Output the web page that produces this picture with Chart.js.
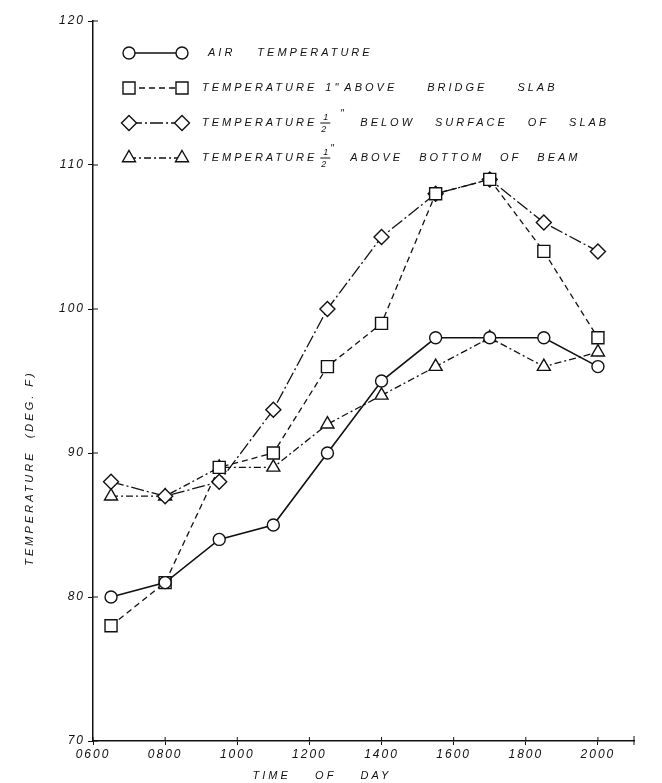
<!DOCTYPE html>
<html>
<head>
<meta charset="utf-8">
<script src="https://cdn.jsdelivr.net/npm/chart.js@4"></script>
<style>
  html, body { margin: 0; padding: 0; background: #fff; }
  #wrap { width: 662px; height: 783px; }
</style>
</head>
<body>
<div id="wrap"><canvas id="tempChart"></canvas></div>
<script>
// readings every 1.5 hours (hour of day as a number)
const times = [6.5, 8, 9.5, 11, 12.5, 14, 15.5, 17, 18.5, 20];
const airTemp = [80, 81, 84, 85, 90, 95, 98, 98, 98, 96];
const aboveSlab = [78, 81, 89, 90, 96, 99, 108, 109, 104, 98];
const belowSurface = [88, 87, 88, 93, 100, 105, 108, 109, 106, 104];
const aboveBeam = [87, 87, 89, 89, 92, 94, 96, 98, 96, 97];

const xTickValues = [6, 8, 10, 12, 14, 16, 18, 20];
const xTickLabels = ['0600', '0800', '1000', '1200', '1400', '1600', '1800', '2000'];
const yTickValues = [70, 80, 90, 100, 110, 120];

const legendRows = [
    ['AIR', 'TEMPERATURE'],
    ['TEMPERATURE', '1"', 'ABOVE', 'BRIDGE', 'SLAB'],
    ['TEMPERATURE', '½', 'BELOW', 'SURFACE', 'OF', 'SLAB'],
    ['TEMPERATURE', '½', 'ABOVE', 'BOTTOM', 'OF', 'BEAM']
];

const FONT = '"Liberation Sans", Arial, sans-serif';

function toPoints(values) {
    return values.map((v, i) => ({ x: times[i], y: v }));
}

function series(label, values, style, radius, dash, width) {
    return {
        label: label,
        data: toPoints(values),
        borderColor: '#111',
        backgroundColor: '#fff',
        borderWidth: width,
        borderDash: dash,
        pointStyle: style,
        pointRadius: radius,
        pointHoverRadius: radius,
        pointBorderWidth: 1.4,
        pointBorderColor: '#111',
        pointBackgroundColor: '#fff',
        tension: 0
    };
}

// draws one legend row word by word, with the stacked 1/2 fraction
function drawWords(ctx, words, x, y, wordGap, fracWidth) {
    let cx = x;
    words.forEach(function(w, i) {
        if (w === '½') {
            ctx.save();
            ctx.font = 'italic 9px ' + FONT;
            ctx.letterSpacing = '0px';
            ctx.textBaseline = 'alphabetic';
            ctx.fillText('1', cx + 3, y - 3);
            ctx.fillText('2', cx + 1, y + 9);
            ctx.beginPath();
            ctx.moveTo(cx, y);
            ctx.lineTo(cx + 10, y);
            ctx.lineWidth = 1;
            ctx.stroke();
            ctx.font = 'italic 10px ' + FONT;
            ctx.fillText('"', cx + fracWidth - 20, y - 6);
            ctx.restore();
            cx += fracWidth;
            return;
        }
        ctx.fillText(w, cx, y);
        let gap = wordGap;
        if (words[i + 1] === '½') gap = 3;
        else if (words[i + 1] === '1"') gap = 8;
        else if (w === '1"') gap = 3;
        cx += ctx.measureText(w).width + gap;
    });
}

const paperPlugin = {
    id: 'paper',
    beforeLayout(chart) {
        chart.ctx.letterSpacing = '2px';
    },
    beforeDraw(chart) {
        const ctx = chart.ctx;
        ctx.save();
        ctx.fillStyle = '#fff';
        ctx.fillRect(0, 0, chart.width, chart.height);
        ctx.restore();
        ctx.letterSpacing = '2px';
    },
    afterDraw(chart) {
        const ctx = chart.ctx;
        const xs = chart.scales.x, ys = chart.scales.y;
        ctx.save();
        ctx.fillStyle = '#111';
        ctx.strokeStyle = '#111';

        // inner half of the crossing ticks, plus the end tick of the time axis
        ctx.lineWidth = 1;
        ctx.beginPath();
        yTickValues.forEach(function(v) {
            const py = ys.getPixelForValue(v);
            ctx.moveTo(xs.left, py);
            ctx.lineTo(xs.left + 5, py);
        });
        xTickValues.forEach(function(v) {
            const px = xs.getPixelForValue(v);
            ctx.moveTo(px, ys.bottom);
            ctx.lineTo(px, ys.bottom - 4);
        });
        ctx.moveTo(xs.right, ys.bottom - 5);
        ctx.lineTo(xs.right, ys.bottom + 4);
        ctx.stroke();

        // axis titles
        ctx.font = 'italic 11px ' + FONT;
        ctx.letterSpacing = '3px';
        ctx.textAlign = 'center';
        ctx.textBaseline = 'middle';
        ctx.fillText('TIME    OF    DAY', 322, 776);
        ctx.save();
        ctx.translate(30, 468);
        ctx.rotate(-Math.PI / 2);
        ctx.fillText('TEMPERATURE  (DEG. F)', 0, 0);
        ctx.restore();

        // legend: line with a marker at each end, then the text
        const rowY = [53, 88, 123, 158];
        const rowGap = [22, 30, 20, 16];
        const rowFrac = [0, 0, 40, 30];
        ctx.textAlign = 'left';
        ctx.textBaseline = 'middle';
        chart.data.datasets.forEach(function(ds, i) {
            const y = rowY[i];
            const x1 = 129, x2 = 182;
            ctx.save();
            ctx.lineWidth = ds.borderWidth;
            ctx.setLineDash(ds.borderDash || []);
            ctx.beginPath();
            ctx.moveTo(x1, y);
            ctx.lineTo(x2, y);
            ctx.stroke();
            ctx.restore();
            const opts = { pointStyle: ds.pointStyle, radius: ds.pointRadius, rotation: 0, borderWidth: 1.4 };
            ctx.save();
            ctx.fillStyle = '#fff';
            ctx.lineWidth = 1.4;
            [x1, x2].forEach(function(px) {
                Chart.helpers.drawPoint(ctx, opts, px, y);
            });
            ctx.restore();
            ctx.font = 'italic 11px ' + FONT;
            ctx.letterSpacing = '3px';
            drawWords(ctx, legendRows[i], i === 0 ? 208 : 202, y, rowGap[i], rowFrac[i]);
        });
        ctx.restore();
    }
};

const datasets = [
    series('AIR TEMPERATURE', airTemp, 'circle', 6, [], 1.6),
    series('TEMPERATURE 1" ABOVE BRIDGE SLAB', aboveSlab, 'rect', 8.5, [6, 4], 1.3),
    series('TEMPERATURE 1/2" BELOW SURFACE OF SLAB', belowSurface, 'rectRot', 7.5, [13, 3, 2, 3], 1.3),
    series('TEMPERATURE 1/2" ABOVE BOTTOM OF BEAM', aboveBeam, 'triangle', 7.5, [7, 3, 2, 3], 1.3)
];

const tickFont = { family: FONT, style: 'italic', size: 12 };

new Chart(document.getElementById('tempChart').getContext('2d'), {
    type: 'line',
    data: { datasets: datasets },
    plugins: [paperPlugin],
    options: {
        responsive: true,
        maintainAspectRatio: false,
        animation: false,
        events: [],
        layout: { padding: { top: 21, right: 28, left: 0, bottom: 0 } },
        plugins: {
            legend: { display: false },
            tooltip: { enabled: false }
        },
        scales: {
            x: {
                type: 'linear',
                min: 6,
                max: 21,
                afterFit: function(s) { s.height = 42; },
                afterBuildTicks: function(s) {
                    s.ticks = xTickValues.map(v => ({ value: v }));
                },
                ticks: {
                    color: '#111',
                    font: tickFont,
                    padding: 2,
                    maxRotation: 0,
                    autoSkip: false,
                    callback: function(v) {
                        const i = xTickValues.indexOf(v);
                        return i >= 0 ? xTickLabels[i] : '';
                    }
                },
                grid: { drawOnChartArea: false, color: '#111', tickLength: 4 },
                border: { color: '#111', width: 1.5 }
            },
            y: {
                min: 70,
                max: 120,
                afterFit: function(s) { s.width = 93; },
                afterBuildTicks: function(s) {
                    s.ticks = yTickValues.map(v => ({ value: v }));
                },
                ticks: { color: '#111', font: tickFont, padding: 3 },
                grid: { drawOnChartArea: false, color: '#111', tickLength: 5 },
                border: { color: '#111', width: 1.5 }
            }
        }
    }
});
</script>
</body>
</html>
